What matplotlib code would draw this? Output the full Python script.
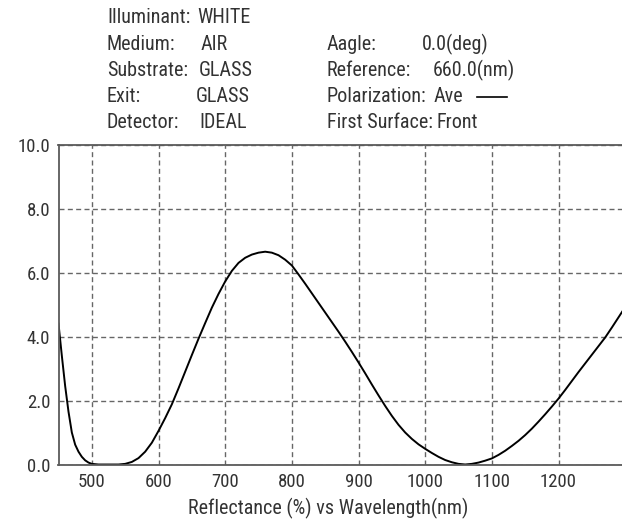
import matplotlib
matplotlib.use("Agg")
import matplotlib.pyplot as plt
from matplotlib.lines import Line2D

plt.rcParams['font.family'] = ['Roboto Condensed', 'Liberation Sans Narrow', 'DejaVu Sans']
plt.rcParams['font.stretch'] = 'condensed'

# data
wavelength = [450, 455, 460, 465, 470, 475, 480, 485, 490, 495,
              500, 510, 520, 530, 540, 550, 560, 570, 580, 590,
              600, 610, 620, 630, 640, 650, 660, 670, 680, 690,
              700, 710, 720, 730, 740, 750, 760, 770, 780, 790,
              800, 810, 820, 830, 840, 850, 860, 870, 880, 890,
              900, 910, 920, 930, 940, 950, 960, 970, 980, 990,
              1000, 1010, 1020, 1030, 1040, 1050, 1060, 1070, 1080, 1090,
              1100, 1110, 1120, 1130, 1140, 1150, 1160, 1170, 1180, 1190,
              1200, 1210, 1220, 1230, 1240, 1250, 1260, 1270, 1280, 1290, 1300]
reflectance = [4.40, 3.40, 2.45, 1.65, 1.00, 0.62, 0.40, 0.24, 0.13, 0.06,
               0.02, 0.00, 0.00, 0.00, 0.00, 0.02, 0.08, 0.20, 0.40, 0.68,
               1.05, 1.45, 1.88, 2.38, 2.90, 3.42, 3.93, 4.42, 4.90, 5.33,
               5.72, 6.05, 6.30, 6.46, 6.56, 6.62, 6.65, 6.62, 6.54, 6.40,
               6.22, 5.94, 5.65, 5.35, 5.05, 4.75, 4.45, 4.15, 3.84, 3.52,
               3.19, 2.85, 2.50, 2.16, 1.83, 1.52, 1.24, 1.00, 0.80, 0.63,
               0.49, 0.36, 0.24, 0.14, 0.07, 0.02, 0.00, 0.02, 0.06, 0.12,
               0.19, 0.30, 0.43, 0.58, 0.74, 0.92, 1.12, 1.34, 1.57, 1.81,
               2.06, 2.33, 2.61, 2.89, 3.16, 3.43, 3.70, 3.97, 4.28, 4.60, 4.92]

xticks = [500, 600, 700, 800, 900, 1000, 1100, 1200]
yticks = [0, 2, 4, 6, 8, 10]

left_labels = ['Illuminant:', 'Medium:', 'Substrate:', 'Exit:', 'Detector:']
left_values = ['WHITE', 'AIR', 'GLASS', 'GLASS', 'IDEAL']
right_labels = ['Aagle:', 'Reference:', 'Polarization:', 'First Surface:']
right_values = ['0.0(deg)', '660.0(nm)', 'Ave', 'Front']

txt = '#333333'
W, H = 622, 524

fig = plt.figure(figsize=(6.22, 5.24), dpi=100)
ax = fig.add_axes([58.5 / W, 1 - 464.5 / H, 566.7 / W, 320 / H])

ax.plot(wavelength, reflectance, color='black', lw=1.4)

ax.set_xlim(450, 1300)
ax.set_ylim(0, 10)
ax.set_xticks(xticks)
ax.set_yticks(yticks)
ax.set_yticklabels(['%.1f' % v for v in yticks])
ax.tick_params(length=0, labelsize=13.5, labelcolor=txt, pad=6)
ax.grid(True, color='#666666', lw=1.0, linestyle=(0, (3.6, 2.4)))
for s in ax.spines.values():
    s.set_color('#5a5a5a')
    s.set_linewidth(1.3)
ax.spines['right'].set_visible(False)

fig.text(328 / W, 1 - 508 / H, 'Reflectance (%) vs Wavelength(nm)',
         ha='center', va='center', fontsize=14.5, color=txt)

# header block
rows = [17.5, 44, 70.8, 97, 122]
lv_x = [197, 201, 198.5, 196, 199]
for i in range(5):
    fig.text(107 / W, 1 - rows[i] / H, left_labels[i], va='center', fontsize=14.5, color=txt)
    fig.text(lv_x[i] / W, 1 - rows[i] / H, left_values[i], va='center', fontsize=14.5, color=txt)

rv_x = [421.5, 433, 434, 436]
for i in range(4):
    fig.text(327 / W, 1 - rows[i + 1] / H, right_labels[i], va='center', fontsize=14.5, color=txt)
    fig.text(rv_x[i] / W, 1 - rows[i + 1] / H, right_values[i], va='center', fontsize=14.5, color=txt)

fig.add_artist(Line2D([477 / W, 507 / W], [1 - 97 / H, 1 - 97 / H], color='black', lw=1.2))

fig.savefig('out.png', dpi=100)
